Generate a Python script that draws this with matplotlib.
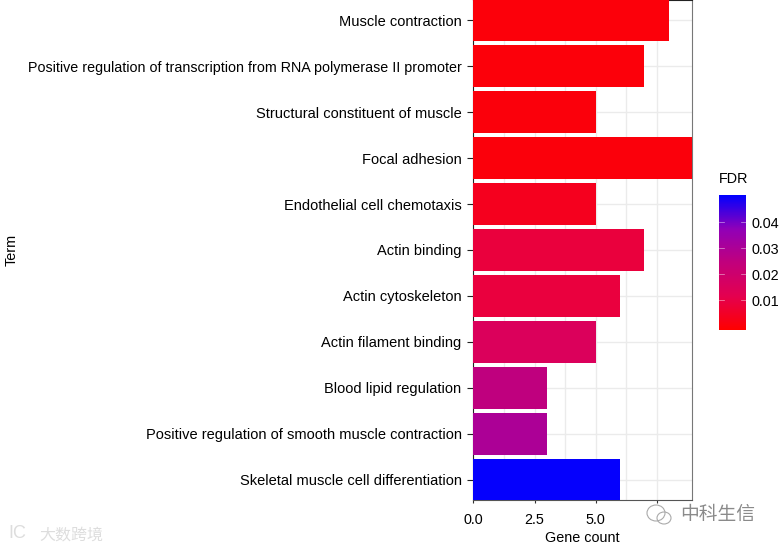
import matplotlib
matplotlib.use("Agg")
import matplotlib.pyplot as plt
from matplotlib.colors import LinearSegmentedColormap, Normalize
from matplotlib.cm import ScalarMappable
from matplotlib.patches import Ellipse
from matplotlib.transforms import ScaledTranslation
import numpy as np

plt.rcParams['font.family'] = ['Liberation Sans', 'Noto Sans CJK SC', 'DejaVu Sans']

terms = ["Skeletal muscle cell differentiation",
         "Positive regulation of smooth muscle contraction",
         "Blood lipid regulation",
         "Actin filament binding",
         "Actin cytoskeleton",
         "Actin binding",
         "Endothelial cell chemotaxis",
         "Focal adhesion",
         "Structural constituent of muscle",
         "Positive regulation of transcription from RNA polymerase II promoter",
         "Muscle contraction"]
counts = [6, 3, 3, 5, 6, 7, 5, 9, 5, 7, 8]
fdr = [0.05, 0.03, 0.025, 0.015, 0.0088, 0.0085, 0.0035, 0.0005, 0.0004, 0.0003, 0.0002]

x_ticks = [0, 2.5, 5, 7.5]
x_labels = ["0.0", "2.5", "5.0", ""]
x_minor = [1.25, 3.75, 6.25]
fdr_ticks = [0.01, 0.02, 0.03, 0.04]

# red to blue the way ggplot blends it
cmap = LinearSegmentedColormap.from_list(
    "fdr", ["#ff0000", "#e4004f", "#c1007c", "#9000b8", "#0000ff"])
norm = Normalize(-0.0015, 0.0505)

fig = plt.figure(figsize=(7.8, 5.49), dpi=100)
ax = fig.add_axes([473.5 / 780, 1 - 500 / 549, 218.5 / 780, 500 / 549])

y = np.arange(len(terms))
ax.barh(y, counts, height=0.9, color=cmap(norm(fdr)), zorder=3)

ax.set_xlim(0, 8.95)
ax.set_ylim(-0.435, 10.435)
ax.set_yticks(y)
ax.set_yticklabels(terms, fontsize=10.5, va='center_baseline')
# long label runs narrower in the original
ax.get_yticklabels()[9].set_fontsize(10.3)
lift = ScaledTranslation(0, 0.8 / 72, fig.dpi_scale_trans)
for lab in ax.get_yticklabels():
    lab.set_transform(lab.get_transform() + lift)
ax.set_xticks(x_ticks)
ax.set_xticklabels(x_labels, fontsize=10.35)
ax.set_xticks(x_minor, minor=True)
ax.tick_params(axis='x', which='major', length=2.5, width=0.8, color='#333333', pad=6.5)
ax.tick_params(axis='y', length=4.3, width=0.8, color='#222222', pad=4.3)
ax.tick_params(axis='x', which='minor', length=0)
ax.grid(True, which='both', color='#ebebeb', lw=1, zorder=0)
ax.set_axisbelow(True)
for s in ['top', 'left']:
    ax.spines[s].set_color('#222222')
ax.spines['right'].set_color('#777777')
ax.spines['bottom'].set_color('#555555')
ax.set_xlabel("Gene count", fontsize=10.35)
ax.xaxis.set_label_coords((582.5 - 473.5) / 218.5, -31 / 500, transform=ax.transAxes)

fig.text(12 / 780, 1 - 250 / 549, "Term", rotation=90, fontsize=10.35, ha='center', va='center')

# legend bar
cax = fig.add_axes([719 / 780, 1 - 330 / 549, 27 / 780, 135 / 549])
cb = fig.colorbar(ScalarMappable(norm=norm, cmap=cmap), cax=cax)
cb.set_ticks(fdr_ticks)
cb.set_ticklabels(["0.01", "0.02", "0.03", "0.04"], fontsize=10.35)
cb.outline.set_visible(False)
cax.tick_params(axis='y', length=0, pad=3.8)
for t in fdr_ticks:
    cax.plot([0, 0.2], [t, t], color='white', lw=0.5, alpha=0.6, transform=cax.get_yaxis_transform())
    cax.plot([0.8, 1], [t, t], color='white', lw=0.5, alpha=0.6, transform=cax.get_yaxis_transform())
fig.text(719 / 780, 1 - 179 / 549, "FDR", fontsize=10.35, ha='left', va='center')

# watermarks
fig.text(680 / 780, 1 - 515 / 549, "中科生信", fontsize=13.5, color='#8a8a8a', ha='left', va='center')
fig.text(39 / 780, 1 - 535 / 549, "大数跨境", fontsize=11.5, color='#dddddd', ha='left', va='center')
fig.text(8 / 780, 1 - 533 / 549, "IC", fontsize=13, color='#dddddd', ha='left', va='center')
for cx, cy, w, h in [(656, 513, 18, 16), (664, 518, 14, 12)]:
    fig.add_artist(Ellipse((cx / 780, 1 - cy / 549), w / 780, h / 549, fill=False,
                           edgecolor='#aaaaaa', lw=0.8, transform=fig.transFigure))

fig.savefig("out.png", dpi=100)
